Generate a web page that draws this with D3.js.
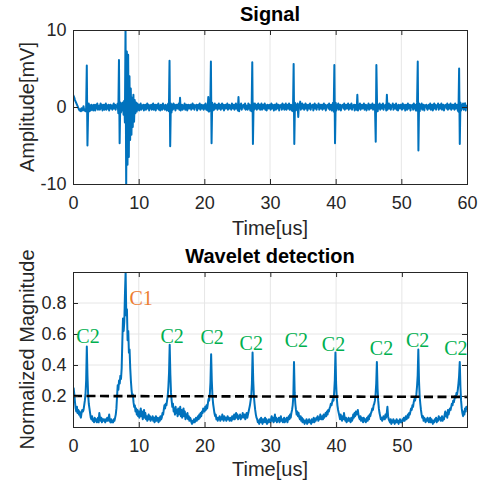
<!DOCTYPE html>
<html>
<head>
<meta charset="utf-8">
<title>Signal / Wavelet detection</title>
<script src="https://d3js.org/d3.v7.min.js"></script>
<style>
  body { margin: 0; background: #fff; }
  text { font-family: "Liberation Sans", Arial, Helvetica, sans-serif; fill: #262626; }
</style>
</head>
<body>
<svg width="480" height="484"></svg>
<script>
// samples every 0.1 us
const sampleStep = 0.1;

const signalAmp = [
  1.6,1.4,1.2,0.9,0.7,0.5,0.3,0.1,-0.1,-0.3,-0.45,-0.3,-0.55,-0.15,-0.45,-0.3,0.1,-0.45,-0.3,-0.55,
  -0.15,5.4,-5.0,-0.8,0.45,-0.55,0.2,-0.45,0.3,-0.35,0.2,-0.45,0.3,0.05,-0.45,0.3,-0.2,0.45,-0.35,0.05,
  0.2,-0.35,0.45,-0.2,0.3,-0.45,0.2,0.3,-0.35,0.05,0.45,-0.35,0.2,-0.2,0.3,-0.45,0.05,0.3,-0.2,0.2,
  -0.35,0.2,0.45,-0.2,0.3,-0.35,0.2,0.05,0.45,-0.8,6.1,-4.7,0.6,-0.7,0.45,-0.45,0.6,-1.0,0.8,-2.0,
  10.5,-10.5,7.2,-7.5,6.8,-6.5,4.0,-4.3,2.4,-3.6,1.2,-2.6,1.6,-1.9,0.9,-0.8,0.6,-0.6,0.45,-0.35,
  0.3,-0.45,0.2,0.45,-0.35,0.2,-0.2,0.3,-0.45,0.2,0.3,-0.35,0.05,0.45,-0.2,0.3,-0.45,0.2,-0.2,0.3,
  -0.35,0.2,0.45,-0.35,0.05,0.3,-0.45,0.2,0.3,-0.2,0.45,-0.35,0.2,-0.45,0.3,0.05,-0.35,0.45,-0.2,0.2,
  -0.35,0.3,0.05,-0.45,0.2,0.45,-0.55,6.0,-5.1,0.45,-0.7,0.3,-0.35,0.45,-0.2,0.3,-0.45,0.2,0.3,-0.2,
  -0.2,0.45,-0.35,1.2,-0.45,0.2,0.3,-0.35,0.2,-0.2,0.45,-0.35,0.05,0.3,-0.45,0.2,0.3,-0.2,0.05,0.3,
  -0.35,0.2,0.45,-0.2,0.3,-0.35,0.2,0.05,0.3,-0.45,0.2,0.3,-0.2,0.45,-0.35,0.05,0.3,-0.2,0.2,-0.35,
  0.3,-0.2,0.45,-0.35,0.2,-0.45,1.3,-0.6,0.3,-0.5,5.9,-4.7,0.55,-0.45,0.3,-0.35,0.45,-0.2,0.2,0.3,
  -0.35,0.2,0.45,-0.2,0.3,-0.35,0.05,0.45,-0.2,0.3,-0.45,0.2,0.3,-0.2,0.05,0.45,-0.35,0.2,0.3,-0.2,
  0.2,-0.35,0.45,0.05,-0.2,0.3,-0.35,0.2,0.45,-0.2,0.3,-0.45,1.3,-0.55,0.3,-0.2,0.45,-0.35,0.2,0.05,
  0.3,-0.2,0.45,-0.35,0.2,0.05,-0.35,0.45,-0.2,0.3,-0.45,0.2,-0.55,5.8,-4.8,0.45,-0.35,0.45,-0.2,0.3,
  -0.35,0.2,0.45,-0.2,0.3,-0.35,0.05,0.45,-0.35,0.2,0.3,-0.2,0.45,-0.35,0.2,-0.45,0.3,0.05,-0.2,0.3,
  0.2,-0.35,0.45,-0.2,0.3,0.05,-0.45,0.3,0.2,-0.35,0.45,-0.2,0.2,0.3,-0.45,0.2,0.05,0.3,-0.35,0.45,
  -0.2,0.3,-0.35,0.2,0.45,-0.35,0.05,0.3,-0.2,0.45,-0.35,0.2,0.3,-0.45,0.2,-0.55,5.6,-4.8,0.55,-0.45,
  0.3,-0.35,0.45,-1.3,0.2,0.3,0.7,-0.35,0.2,0.45,-0.2,0.3,-0.35,0.05,0.45,-0.2,0.3,-0.45,0.2,0.3,
  -0.2,0.45,-0.35,0.2,0.05,0.3,-0.45,0.2,0.45,-0.2,0.3,-0.35,0.2,0.05,0.45,-0.35,0.2,0.3,-0.2,0.3,
  -0.35,0.2,0.45,-0.2,0.3,-0.45,0.2,0.05,0.3,-0.2,0.45,-0.35,0.2,0.3,-0.45,0.2,0.55,-0.6,5.45,-4.7,
  0.55,-0.45,0.3,-0.2,0.45,-0.35,0.2,0.3,-0.45,0.2,0.05,0.3,-0.2,0.45,-0.35,0.2,0.3,-0.2,0.05,0.45,
  -0.35,0.2,0.3,-0.2,0.45,-0.35,0.2,0.05,0.3,-0.45,0.2,0.3,-0.35,1.6,-0.45,0.3,-0.2,0.45,-0.35,0.2,
  0.3,-0.2,0.05,0.45,-0.35,0.2,0.3,-0.45,0.2,-0.2,0.45,-0.35,0.2,0.3,-0.2,0.05,0.45,-0.35,0.2,0.3,
  -0.45,-4.5,5.45,0.45,-0.55,0.3,-0.2,0.45,-0.35,0.2,0.3,-0.2,0.45,-0.35,0.2,0.05,0.3,-0.45,1.6,-0.35,
  0.2,0.45,-0.2,0.3,-0.35,0.2,0.05,0.45,-0.35,0.2,0.3,-0.2,0.45,-0.35,0.2,-0.45,0.3,0.05,-0.2,0.3,
  0.2,-0.35,0.45,-0.2,0.3,0.05,-0.45,0.3,0.2,-0.35,0.45,-0.2,0.2,0.3,-0.45,0.2,0.05,0.3,-0.35,0.45,
  -0.2,0.3,-0.45,-0.45,0.6,5.9,-5.65,0.45,-0.55,0.3,-0.2,0.45,-0.35,0.2,0.3,-0.45,0.2,0.05,0.3,-0.2,
  -0.35,0.2,0.3,-0.2,0.45,-0.35,0.05,0.3,-0.45,0.2,0.45,-0.2,0.3,-0.35,0.2,0.05,0.45,-0.35,0.2,0.3,
  -0.2,0.45,-0.35,0.2,0.3,-0.45,0.2,0.05,0.3,-0.2,0.45,-0.35,0.2,0.3,-0.2,0.45,-0.35,0.05,0.3,-0.2,
  0.3,-0.35,0.45,-0.2,0.2,0.3,-0.45,-0.6,5.0,-4.8,0.55,-0.45,0.3,-0.2,0.45,-0.35,0.2,0.5,-0.45,0.3
];

const waveletMag = [
  0.18,0.25,0.21,0.16,0.12,0.10,0.13,0.09,0.11,0.08,0.10,0.07,0.06,0.09,0.11,0.10,0.11,0.14,0.17,0.21,
  0.30,0.52,0.33,0.21,0.15,0.12,0.09,0.06,0.05,0.07,0.04,0.05,0.03,0.06,0.04,0.05,0.03,0.04,0.06,0.03,
  0.09,0.06,0.04,0.06,0.03,0.05,0.04,0.05,0.04,0.03,0.05,0.04,0.06,0.04,0.05,0.08,0.04,0.03,0.05,0.03,
  0.04,0.03,0.05,0.04,0.06,0.08,0.12,0.20,0.27,0.24,0.30,0.28,0.33,0.31,0.38,0.55,0.70,0.62,0.68,0.86,
  1.00,0.72,0.76,0.56,0.62,0.48,0.50,0.38,0.30,0.24,0.20,0.21,0.16,0.13,0.14,0.10,0.12,0.08,0.11,0.07,
  0.10,0.06,0.09,0.12,0.07,0.10,0.05,0.08,0.11,0.06,0.09,0.05,0.07,0.04,0.06,0.08,0.05,0.07,0.04,0.06,
  0.05,0.07,0.04,0.06,0.03,0.05,0.07,0.04,0.06,0.05,0.03,0.06,0.04,0.07,0.05,0.06,0.09,0.08,0.11,0.14,
  0.12,0.15,0.14,0.17,0.20,0.26,0.35,0.53,0.34,0.22,0.17,0.13,0.15,0.10,0.12,0.08,0.13,0.09,0.11,0.07,
  0.12,0.08,0.10,0.13,0.07,0.11,0.06,0.09,0.12,0.07,0.10,0.05,0.08,0.06,0.09,0.05,0.07,0.04,0.06,0.05,
  0.03,0.02,0.04,0.03,0.05,0.03,0.04,0.06,0.04,0.05,0.07,0.05,0.08,0.06,0.09,0.07,0.10,0.09,0.12,0.11,
  0.10,0.13,0.11,0.14,0.12,0.15,0.18,0.17,0.21,0.29,0.47,0.30,0.20,0.15,0.12,0.09,0.07,0.08,0.05,0.06,
  0.04,0.06,0.05,0.07,0.04,0.06,0.05,0.08,0.06,0.04,0.07,0.05,0.06,0.04,0.05,0.07,0.05,0.06,0.04,0.05,
  0.06,0.04,0.07,0.05,0.06,0.08,0.05,0.07,0.09,0.06,0.08,0.05,0.07,0.06,0.08,0.05,0.07,0.06,0.09,0.07,
  0.06,0.08,0.05,0.07,0.09,0.06,0.08,0.10,0.12,0.14,0.17,0.20,0.28,0.48,0.30,0.20,0.15,0.11,0.08,0.06,
  0.05,0.03,0.04,0.02,0.05,0.03,0.06,0.04,0.02,0.05,0.03,0.04,0.06,0.03,0.05,0.02,0.04,0.03,0.05,0.04,
  0.03,0.05,0.07,0.04,0.06,0.03,0.05,0.08,0.04,0.06,0.03,0.05,0.04,0.06,0.03,0.05,0.07,0.04,0.05,0.03,
  0.04,0.06,0.03,0.05,0.04,0.06,0.03,0.05,0.07,0.05,0.08,0.06,0.09,0.11,0.14,0.20,0.42,0.22,0.15,0.11,
  0.08,0.10,0.07,0.09,0.06,0.05,0.07,0.04,0.06,0.03,0.05,0.04,0.02,0.04,0.03,0.05,0.02,0.04,0.03,0.05,
  0.03,0.04,0.02,0.05,0.03,0.04,0.06,0.03,0.05,0.04,0.06,0.05,0.07,0.04,0.06,0.05,0.08,0.06,0.05,0.07,
  0.05,0.08,0.06,0.07,0.09,0.07,0.10,0.08,0.11,0.10,0.12,0.13,0.15,0.14,0.16,0.18,0.17,0.22,0.30,0.48,
  0.28,0.19,0.14,0.11,0.09,0.07,0.05,0.08,0.06,0.04,0.07,0.05,0.09,0.06,0.04,0.06,0.03,0.05,0.04,0.06,
  0.04,0.05,0.03,0.06,0.04,0.05,0.08,0.06,0.09,0.07,0.10,0.08,0.09,0.11,0.08,0.06,0.05,0.07,0.04,0.06,
  0.05,0.03,0.06,0.04,0.05,0.03,0.04,0.06,0.04,0.07,0.05,0.08,0.07,0.09,0.10,0.12,0.11,0.14,0.15,0.17,
  0.21,0.28,0.42,0.25,0.17,0.12,0.09,0.07,0.05,0.06,0.04,0.05,0.07,0.06,0.05,0.08,0.06,0.09,0.13,0.07,
  0.05,0.04,0.03,0.05,0.02,0.04,0.03,0.05,0.04,0.02,0.04,0.03,0.05,0.03,0.04,0.02,0.04,0.05,0.03,0.04,
  0.03,0.05,0.04,0.06,0.04,0.05,0.07,0.05,0.06,0.08,0.06,0.09,0.08,0.10,0.12,0.11,0.14,0.13,0.16,0.18,
  0.17,0.19,0.21,0.26,0.33,0.50,0.30,0.20,0.15,0.11,0.08,0.06,0.07,0.04,0.06,0.05,0.03,0.05,0.04,0.06,
  0.05,0.03,0.04,0.06,0.03,0.05,0.04,0.02,0.04,0.03,0.05,0.04,0.06,0.03,0.05,0.04,0.07,0.05,0.06,0.04,
  0.05,0.07,0.04,0.06,0.05,0.08,0.10,0.07,0.09,0.06,0.11,0.08,0.10,0.12,0.11,0.13,0.15,0.14,0.17,0.16,
  0.18,0.20,0.19,0.22,0.21,0.24,0.28,0.33,0.42,0.26,0.17,0.12,0.09,0.07,0.10,0.08,0.12,0.10,0.13,0.11
];

// detection threshold (dashed), ends of the line
const thresholdTime = [0, 59.9];
const thresholdLevel = [0.2, 0.194];

// peak labels
const peakLabels = ['C2', 'C1', 'C2', 'C2', 'C2', 'C2', 'C2', 'C2', 'C2', 'C2'];
const peakLabelTime = [2.28, 10.36, 15.07, 21.16, 27.1, 33.96, 39.6, 46.9, 52.4, 58.2];
const peakLabelMag = [0.543, 0.789, 0.543, 0.537, 0.498, 0.517, 0.491, 0.465, 0.517, 0.465];

const signalXTicks = [0, 10, 20, 30, 40, 50, 60];
const signalYTicks = [-10, 0, 10];
const waveletXTicks = [0, 10, 20, 30, 40, 50];
const waveletYTicks = [0.2, 0.4, 0.6, 0.8];

const sampleTime = signalAmp.map((d, i) => i * sampleStep);

const left = 73, right = 467;
const svg = d3.select('svg');
const ink = '#262626';
const lineColor = '#0072BD';

function panel(id, top, bottom, x, y, xTicks, yTicks, yGrid) {
  const g = svg.append('g');
  svg.append('clipPath').attr('id', id)
    .append('rect').attr('x', left).attr('y', top)
    .attr('width', right - left).attr('height', bottom - top);

  // grid
  g.append('g').selectAll('line').data(xTicks.filter(d => x(d) > left + 1 && x(d) < right - 1))
    .join('line')
    .attr('x1', d => x(d)).attr('x2', d => x(d))
    .attr('y1', top).attr('y2', bottom)
    .attr('stroke', '#e6e6e6');
  if (yGrid) {
    g.append('g').selectAll('line').data(yTicks)
      .join('line')
      .attr('x1', left).attr('x2', right)
      .attr('y1', d => y(d)).attr('y2', d => y(d))
      .attr('stroke', '#e6e6e6');
  }
  const plot = svg.append('g').attr('clip-path', `url(#${id})`);
  const frame = svg.append('g');
  return { plot, frame, draw: () => axes(frame, top, bottom, x, y, xTicks, yTicks) };
}

function axes(g, top, bottom, x, y, xTicks, yTicks) {
  const fmt = d => String(d);
  const style = a => a.attr('font-size', 18)
    .attr('font-family', '"Liberation Sans", Arial, sans-serif')
    .attr('color', ink)
    .call(s => s.select('.domain').remove());

  g.append('g').attr('transform', `translate(0,${bottom})`)
    .call(d3.axisBottom(x).tickValues(xTicks).tickFormat(fmt)
      .tickSizeInner(-5).tickSizeOuter(0).tickPadding(12.5))
    .call(style);
  g.append('g').attr('transform', `translate(0,${top})`)
    .call(d3.axisTop(x).tickValues(xTicks).tickFormat('')
      .tickSizeInner(-5).tickSizeOuter(0))
    .call(style);
  g.append('g').attr('transform', `translate(${left},0)`)
    .call(d3.axisLeft(y).tickValues(yTicks).tickFormat(fmt)
      .tickSizeInner(-5).tickSizeOuter(0).tickPadding(6.5))
    .call(style);
  g.append('g').attr('transform', `translate(${right},0)`)
    .call(d3.axisRight(y).tickValues(yTicks).tickFormat('')
      .tickSizeInner(-5).tickSizeOuter(0))
    .call(style);

  g.append('rect')
    .attr('x', left).attr('y', top)
    .attr('width', right - left).attr('height', bottom - top)
    .attr('fill', 'none').attr('stroke', ink).attr('stroke-width', 1)
    .attr('shape-rendering', 'crispEdges');
}

// ---- Signal ----
const x1 = d3.scaleLinear().domain([0, 60]).range([left, right]);
const y1 = d3.scaleLinear().domain([-10, 10]).range([184, 30]);
const p1 = panel('clipSignal', 30, 184, x1, y1, signalXTicks, signalYTicks, false);

p1.plot.append('path')
  .datum(signalAmp)
  .attr('fill', 'none')
  .attr('stroke', lineColor)
  .attr('stroke-width', 2)
  .attr('stroke-linejoin', 'round')
  .attr('d', d3.line().x((d, i) => x1(sampleTime[i])).y(d => y1(d)));
p1.draw();

svg.append('text').attr('x', 270).attr('y', 21)
  .attr('text-anchor', 'middle').attr('font-size', 20).attr('font-weight', 'bold')
  .style('fill', '#000').text('Signal');
svg.append('text').attr('x', 270).attr('y', 235)
  .attr('text-anchor', 'middle').attr('font-size', 20).text('Time[us]');
svg.append('text')
  .attr('transform', `translate(33.5,${(30 + 184) / 2}) rotate(-90)`)
  .attr('text-anchor', 'middle').attr('font-size', 20).text('Amplitude[mV]');

// ---- Wavelet detection ----
const x2 = d3.scaleLinear().domain([0, 59.9]).range([left, right]);
const y2 = d3.scaleLinear().domain([0, 1]).range([427, 272]);
const p2 = panel('clipWavelet', 272, 427, x2, y2, waveletXTicks, waveletYTicks, true);

p2.plot.append('path')
  .datum(waveletMag)
  .attr('fill', 'none')
  .attr('stroke', lineColor)
  .attr('stroke-width', 2)
  .attr('stroke-linejoin', 'round')
  .attr('d', d3.line().x((d, i) => x2(sampleTime[i])).y(d => y2(d)));

p2.plot.append('path')
  .datum(thresholdLevel)
  .attr('fill', 'none')
  .attr('stroke', '#000')
  .attr('stroke-width', 2.6)
  .attr('stroke-dasharray', '9,4.5')
  .attr('d', d3.line().x((d, i) => x2(thresholdTime[i])).y(d => y2(d)));
p2.draw();

svg.append('g').selectAll('text').data(peakLabels).join('text')
  .attr('x', (d, i) => x2(peakLabelTime[i]))
  .attr('y', (d, i) => y2(peakLabelMag[i]))
  .attr('text-anchor', 'middle')
  .attr('font-size', 20)
  .style('font-family', '"Liberation Serif", "Times New Roman", serif')
  .style('fill', d => d === 'C1' ? '#ED7D31' : '#00B050')
  .text(d => d);

svg.append('text').attr('x', 270).attr('y', 263)
  .attr('text-anchor', 'middle').attr('font-size', 20).attr('font-weight', 'bold')
  .style('fill', '#000').text('Wavelet detection');
svg.append('text').attr('x', 270).attr('y', 476)
  .attr('text-anchor', 'middle').attr('font-size', 20).text('Time[us]');
svg.append('text')
  .attr('transform', `translate(33.5,${(272 + 427) / 2}) rotate(-90)`)
  .attr('text-anchor', 'middle').attr('font-size', 20).text('Normalized Magnitude');
</script>
</body>
</html>
